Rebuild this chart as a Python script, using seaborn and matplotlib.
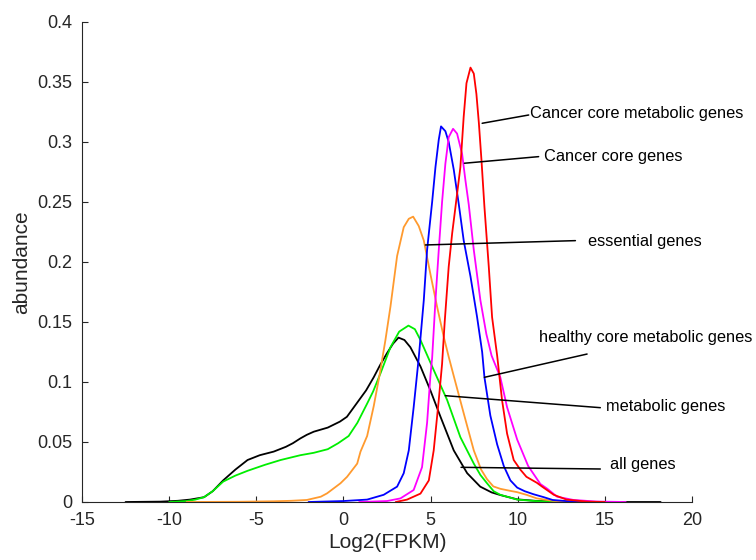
import matplotlib
matplotlib.use("Agg")
import matplotlib.pyplot as plt
import seaborn as sns
import numpy as np

# ---------------- data ----------------
all_x = [-12.5, -10.5, -9.5, -8.8, -8.0, -7.5, -6.9, -6.2, -5.5, -4.8, -4.0, -3.3, -2.9, -2.47, -2.1,
         -1.7, -0.9, -0.2, 0.2, 0.9, 1.3, 1.74, 2.1, 2.5, 2.85, 3.16, 3.5, 3.84, 4.42, 4.99, 5.57,
         6.33, 7.10, 7.85, 8.5, 9.0, 9.97, 11.0, 12.0, 14.0, 16.0, 18.2]
all_y = [0, 0.0003, 0.001, 0.002, 0.004, 0.009, 0.018, 0.027, 0.035, 0.039, 0.042, 0.046, 0.049, 0.053,
         0.056, 0.0586, 0.062, 0.067, 0.071, 0.085, 0.093, 0.104, 0.114, 0.124, 0.132, 0.137, 0.135,
         0.129, 0.113, 0.093, 0.071, 0.043, 0.024, 0.0128, 0.008, 0.0058, 0.0022, 0.001, 0.0004, 0.0001, 0, 0]

met_x = [-10, -9, -8.5, -8.0, -7.5, -6.9, -6.2, -5.5, -4.5, -3.6, -2.47, -1.7, -0.9, -0.3, 0.3, 0.8,
         1.36, 1.7, 2.12, 2.7, 3.2, 3.73, 4.1, 4.42, 5.18, 5.95, 6.71, 7.48, 7.86, 8.24, 8.62, 9.0,
         9.97, 11, 12, 13.5]
met_y = [0, 0.0008, 0.002, 0.004, 0.009, 0.017, 0.022, 0.026, 0.031, 0.035, 0.039, 0.041, 0.044, 0.049,
         0.055, 0.066, 0.082, 0.092, 0.107, 0.129, 0.142, 0.147, 0.144, 0.135, 0.110, 0.085, 0.054,
         0.032, 0.0225, 0.0156, 0.009, 0.006, 0.002, 0.0008, 0.0003, 0]

ess_x = [-9, -6, -4, -3, -2.1, -1.3, -0.94, -0.17, 0.21, 0.79, 0.98, 1.36, 1.74, 2.1, 2.41, 2.70, 3.08,
         3.46, 3.75, 4.0, 4.32, 4.61, 4.99, 5.37, 5.75, 6.04, 6.33, 6.9, 7.48, 7.9, 8.24, 8.6, 9.0, 9.5,
         9.97, 10.5, 11.1, 12, 13]
ess_y = [0, 0.0002, 0.0006, 0.001, 0.0017, 0.0044, 0.0072, 0.0156, 0.021, 0.032, 0.042, 0.055, 0.080,
         0.108, 0.135, 0.163, 0.205, 0.229, 0.236, 0.2378, 0.230, 0.218, 0.19, 0.163, 0.138, 0.121,
         0.105, 0.074, 0.043, 0.027, 0.019, 0.013, 0.011, 0.0095, 0.0082, 0.006, 0.003, 0.001, 0]

hcm_x = [-2, 0, 1.36, 2.31, 3.08, 3.46, 3.75, 4.03, 4.32, 4.61, 4.80, 5.09, 5.28, 5.47, 5.6, 5.85, 6.04,
         6.33, 6.62, 6.90, 7.29, 7.67, 7.96, 8.09, 8.43, 8.82, 9.2, 9.58, 9.97, 10.4, 10.9, 11.5, 12, 13, 14]
hcm_y = [0, 0.0008, 0.002, 0.006, 0.0128, 0.024, 0.043, 0.079, 0.12, 0.168, 0.21, 0.25, 0.279, 0.302,
         0.313, 0.309, 0.300, 0.277, 0.248, 0.218, 0.188, 0.154, 0.125, 0.104, 0.072, 0.048, 0.030,
         0.018, 0.012, 0.009, 0.0065, 0.004, 0.0017, 0.0005, 0]

cc_x = [0.9, 2.5, 3.27, 4.03, 4.51, 4.80, 4.99, 5.09, 5.28, 5.47, 5.66, 5.85, 6.04, 6.29, 6.52, 6.81,
        7.0, 7.19, 7.48, 7.86, 8.2, 8.5, 9.0, 9.39, 9.97, 10.6, 11.3, 11.7, 12.26, 13.2, 14.5, 16.2]
cc_y = [0, 0.0008, 0.003, 0.01, 0.029, 0.066, 0.105, 0.12, 0.168, 0.21, 0.25, 0.282, 0.304, 0.311,
        0.307, 0.29, 0.268, 0.248, 0.21, 0.168, 0.140, 0.122, 0.104, 0.079, 0.052, 0.030, 0.015, 0.011,
        0.0044, 0.0017, 0.0004, 0]

ccm_x = [3.0, 3.65, 4.42, 4.9, 5.18, 5.47, 5.66, 5.81, 6.04, 6.24, 6.43, 6.71, 6.9, 7.06, 7.29, 7.48,
         7.63, 7.77, 7.92, 8.09, 8.34, 8.53, 8.82, 9.1, 9.39, 9.77, 10.15, 10.5, 11.1, 11.4, 12.07,
         12.8, 14, 15]
ccm_y = [0, 0.002, 0.007, 0.018, 0.043, 0.085, 0.115, 0.150, 0.196, 0.224, 0.246, 0.279, 0.321, 0.349,
         0.362, 0.357, 0.34, 0.316, 0.285, 0.246, 0.196, 0.154, 0.122, 0.085, 0.057, 0.035, 0.027,
         0.021, 0.016, 0.0128, 0.006, 0.002, 0.0003, 0]

labels = ["all genes", "metabolic genes", "essential genes", "healthy core metabolic genes",
          "Cancer core genes", "Cancer core metabolic genes"]

# ---------------- styling ----------------
colors = ["#000000", "#00ee00", "#ff9a2e", "#0000ff", "#ff00ff", "#ff0000"]
# annotation: (curve point x, y), (line end x, y), (text x, y)
ann = [((6.75, 0.0289), (14.74, 0.0275), (15.32, 0.0310)),
       ((5.85, 0.0886), (14.74, 0.0786), (15.09, 0.0800)),
       ((4.70, 0.2142), (13.31, 0.2178), (14.02, 0.2169)),
       ((8.09, 0.1039), (13.98, 0.1233), (11.23, 0.1373)),
       ((6.94, 0.2823), (11.20, 0.2878), (11.49, 0.2883)),
       ((7.96, 0.3156), (10.63, 0.3225), (10.73, 0.3240))]

sns.set_style("ticks")
plt.rcParams["font.family"] = ["Liberation Sans", "DejaVu Sans"]
plt.rcParams["axes.unicode_minus"] = False
axcol = "#262626"

fig = plt.figure(figsize=(7.56, 5.6), dpi=100)
ax = fig.add_axes([82 / 756, 58 / 560, 610 / 756, 480 / 560])

series = [(all_x, all_y), (met_x, met_y), (ess_x, ess_y), (hcm_x, hcm_y), (cc_x, cc_y), (ccm_x, ccm_y)]
for (xs, ys), c in zip(series, colors):
    sns.lineplot(x=xs, y=ys, sort=False, color=c, linewidth=1.3, ax=ax, estimator=None)

for (p0, p1, pt), lab in zip(ann, labels):
    ax.plot([p0[0], p1[0]], [p0[1], p1[1]], color="black", linewidth=1.1)
    ax.text(pt[0], pt[1], lab, fontsize=11.8, color="black", ha="left", va="center")

ax.set_xlim(-15, 20)
ax.set_ylim(0, 0.4)
ax.set_xticks(np.arange(-15, 21, 5))
ax.set_yticks(np.arange(0, 0.401, 0.05))
ax.set_yticklabels(["0", "0.05", "0.1", "0.15", "0.2", "0.25", "0.3", "0.35", "0.4"])
ax.tick_params(direction="in", length=4, width=0.8, colors=axcol, labelsize=13, labelcolor=axcol, pad=7)
for s in ["top", "right"]:
    ax.spines[s].set_visible(False)
for s in ["left", "bottom"]:
    ax.spines[s].set_color(axcol)
    ax.spines[s].set_linewidth(0.8)
ax.set_xlabel("Log2(FPKM)", fontsize=15, color=axcol, labelpad=3)
ax.set_ylabel("abundance", fontsize=15, color=axcol, labelpad=4)

fig.savefig("out.png", dpi=100)
